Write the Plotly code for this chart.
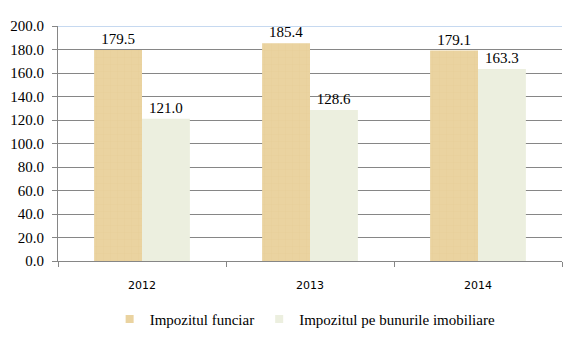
import plotly.graph_objects as go

years = ["2012", "2013", "2014"]
funciar = [179.5, 185.4, 179.1]
imobiliare = [121.0, 128.6, 163.3]
yticks = [0, 20, 40, 60, 80, 100, 120, 140, 160, 180, 200]

c1 = "#EAD3A0"
c2 = "#ECEFDF"

fig = go.Figure()
fig.add_trace(go.Bar(
    x=years, y=funciar, name="Impozitul funciar", showlegend=False,
    marker=dict(color=c1, line=dict(width=0),
                pattern=dict(shape="+", fgcolor="#DFC68C", size=7, solidity=0.1)),
    text=[f"{v:.1f}" for v in funciar], textposition="outside",
    textfont=dict(family="Liberation Serif", size=15, color="#000"),
    cliponaxis=False,
))
fig.add_trace(go.Bar(
    x=years, y=imobiliare, name="Impozitul pe bunurile imobiliare", showlegend=False,
    marker=dict(color=c2, line=dict(width=0)),
    text=[f"{v:.1f}" for v in imobiliare], textposition="outside",
    textfont=dict(family="Liberation Serif", size=15, color="#000"),
    cliponaxis=False,
))
# legend-only entries with small square symbols
for name, col in [("Impozitul funciar", c1), ("Impozitul pe bunurile imobiliare", c2)]:
    fig.add_trace(go.Scatter(
        x=[None], y=[None], mode="markers", name=name,
        marker=dict(symbol="square", size=8, color=col),
    ))

fig.add_shape(type="line", xref="paper", x0=0, x1=1, yref="y", y0=200, y1=200,
              line=dict(color="#8DB3E2", width=1), layer="above")

fig.update_layout(
    width=577, height=341,
    margin=dict(l=58, r=15, t=26, b=80, autoexpand=False),
    paper_bgcolor="white", plot_bgcolor="white",
    barmode="group", bargap=0.43, bargroupgap=0,
    showlegend=True,
    legend=dict(orientation="h", xref="container", x=0.19, xanchor="left",
                yref="container", y=0.112, yanchor="top",
                font=dict(family="Liberation Serif", size=15, color="#000"),
                itemwidth=30, traceorder="normal"),
    xaxis=dict(
        type="category", showline=True, linecolor="#868686", linewidth=1,
        ticks="outside", tickson="boundaries", ticklen=5, tickcolor="#868686",
        tickfont=dict(family="DejaVu Sans", size=11, color="#000"),
        ticklabelstandoff=14,
        showgrid=False,
    ),
    yaxis=dict(
        range=[0, 200], tickvals=yticks,
        ticktext=[f"{v:.1f}" for v in yticks],
        showline=True, linecolor="#868686", linewidth=1,
        ticks="outside", ticklen=5, tickcolor="#868686",
        ticklabelstandoff=5,
        showgrid=True, gridcolor="#868686", gridwidth=1,
        tickfont=dict(family="Liberation Serif", size=15, color="#000"),
        zeroline=False,
    ),
)

fig.write_html("out.html")
